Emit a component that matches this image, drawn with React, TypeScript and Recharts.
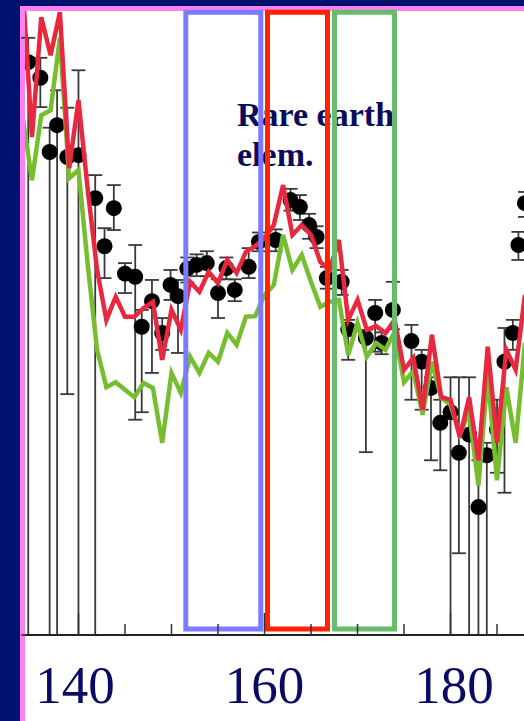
import React from 'react';
import { ComposedChart, Line, Scatter, XAxis, YAxis, ErrorBar, ReferenceArea } from 'recharts';

// Mass number grid for the model curves
const lineA = [134,135,136,137,138,139,140,141,142,143,144,145,146,147,148,149,150,151,152,153,154,155,156,157,158,159,160,161,162,163,164,165,166,167,168,169,170,171,172,173,174,175,176,177,178,179,180,181,182,183,184,185,186,187,188];
const redV = [104,79.8,99.0,92.9,99.8,74.8,85.7,71.3,58.5,50.5,54.2,51.0,51.0,52.4,53.4,44.1,52.1,48.9,56.6,55.0,58.2,56.4,60.1,58.0,61.4,62.3,63.6,65.7,72.1,64.1,65.7,64.1,59.8,58.5,63.3,50.5,53.7,48.9,49.5,48.4,50.5,42.5,44.4,36.1,48.1,38.1,37.7,31.7,38.1,28.0,46.2,30.8,45.7,42.5,54.5];
const greenV = [82.9,72.9,83.3,84.1,95.7,73.2,74.5,59.3,45.7,39.7,40.5,39.3,38.1,40.4,39.6,30.8,42.0,38.8,44.6,42.0,45.2,43.8,48.4,46.5,51.0,51.1,54.5,56.1,64.1,58.5,60.9,56.6,52.6,53.4,53.7,44.9,50.0,44.6,46.8,45.7,48.6,40.5,42.3,35.3,43.8,38.0,36.9,32.1,35.7,24.0,41.7,24.8,39.7,30.8,46.8];

// Observed abundances (dots) with upper / lower error ends (0 = reaches the axis)
const dotA = [134.6,135.9,136.9,137.7,138.8,140.0,141.8,142.8,143.8,145.0,146.1,146.8,147.9,149.0,149.9,150.7,151.7,152.7,153.8,155.0,155.9,156.8,158.3,159.4,161.2,162.8,163.8,164.8,165.6,166.7,168.3,169.0,170.9,171.9,172.6,173.8,175.8,176.9,177.9,178.9,180.0,180.9,182.0,183.0,183.9,185.0,185.8,186.7,187.3,188.0];
const dotV = [91.8,89.3,77.4,81.7,76.6,76.9,70.0,62.3,68.4,57.9,57.4,49.4,53.5,48.4,56.1,54.3,58.7,59.3,59.6,54.8,58.8,55.3,59.0,63.0,63.3,69.7,68.6,65.7,63.8,57.2,56.6,49.0,47.6,51.6,46.8,52.1,47.1,43.8,39.6,34.0,35.7,29.2,32.1,20.5,28.8,32.9,43.8,48.4,62.5,69.2];
const dotHi = [95.7,92.5,81.3,87.3,84.5,90.5,73.7,65.2,72.1,59.6,62.5,52.1,56.9,50.8,58.5,56.9,60.5,61.0,61.5,57.0,60.5,57.0,62.0,64.5,65.0,71.5,70.5,67.5,65.5,59.0,58.5,50.5,48.9,53.7,48.5,56.6,49.7,45.7,41.3,37.7,41.3,41.3,41.3,28.0,30.8,37.7,49.2,50.5,64.6,71.0];
const dotLo = [0,84.6,0,0,38.6,0,0,57.2,64.9,54.8,34.5,35.7,42.0,45.7,53.7,45.2,56.5,57.5,57.5,50.8,57.0,53.5,57.2,61.5,61.5,68.0,66.5,63.5,62.0,55.5,54.5,44.1,29.3,45.4,45.0,49.0,37.7,36.1,28.0,26.4,0,13.1,0,0,0,26.0,22.8,45.7,60.1,67.0];

// Axis ticks
const xTicks = [140,145,150,155,160,165,170,175,180,185];
const xLabels = [140,160,180];

// Highlight windows (mass number ranges)
const boxes = [
  { x1: 151.54, x2: 159.6, color: '#7b7bff' },
  { x1: 160.32, x2: 166.77, color: '#ff2200' },
  { x1: 167.53, x2: 173.98, color: '#68bb6a' },
];

const redRows = lineA.map((A, i) => ({ A, v: redV[i] }));
const greenRows = lineA.map((A, i) => ({ A, v: greenV[i] }));
const dotRows = dotA.map((A, i) => ({ A, v: dotV[i], err: [dotV[i] - dotLo[i], dotHi[i] - dotV[i]] }));

const AxisTick = (props: any) => {
  const { x, y, payload } = props;
  const val = payload.value;
  const major = xLabels.includes(val);
  return (
    <g>
      <line x1={x} x2={x} y1={y} y2={y - (major ? 22 : 11)} stroke="#333" strokeWidth={1.5} />
      {major && (
        <text
          x={x + ((val - 160) / 20) * 3.5}
          y={y + 68}
          textAnchor="middle"
          fontFamily="'Liberation Serif', 'Times New Roman', serif"
          fontSize={53}
          fill="#0a0a64"
        >
          {val}
        </text>
      )}
    </g>
  );
};

const Dot = (props: any) => {
  const { cx, cy } = props;
  return <circle cx={cx} cy={cy} r={8} fill="#000" />;
};

export default function App() {
  return (
    <div style={{ position: 'fixed', left: 0, top: 0, width: 524, height: 721, background: '#00106e', overflow: 'hidden' }}>
      <div
        style={{
          position: 'absolute', left: 20, top: 6, right: 0, bottom: 0, background: '#ffffff',
          borderLeft: '5px solid #fa80f4', borderTop: '5px solid #fa80f4', boxSizing: 'border-box',
        }}
      />
      <div
        style={{
          position: 'absolute', left: 237, top: 95, fontFamily: "'Liberation Serif', 'Times New Roman', serif",
          fontWeight: 'bold', fontSize: 34, lineHeight: '40px', color: '#0b0b5e', whiteSpace: 'nowrap',
        }}
      >
        Rare earth<br />elem.
      </div>
      <div style={{ position: 'absolute', left: 0, top: 0 }}>
        <ComposedChart width={524} height={721} margin={{ top: 11, right: 0, bottom: 0, left: 25 }}>
          <XAxis
            type="number"
            dataKey="A"
            domain={[134.25, 187.9]}
            allowDataOverflow
            ticks={xTicks}
            interval={0}
            tickSize={0}
            tickMargin={0}
            tickLine={false}
            tick={<AxisTick />}
            axisLine={{ stroke: '#222', strokeWidth: 2 }}
            height={86}
          />
          <YAxis type="number" dataKey="v" domain={[0, 100]} allowDataOverflow hide />
          <Scatter data={dotRows} dataKey="v" shape={<Dot />} isAnimationActive={false} zIndex={300}>
            <ErrorBar dataKey="err" direction="y" width={7} stroke="#3a3a3a" strokeWidth={1.8} isAnimationActive={false} zIndex={290} />
          </Scatter>
          <Line data={greenRows} dataKey="v" type="linear" stroke="#76be30" strokeWidth={4.5} dot={false} isAnimationActive={false} zIndex={400} />
          <Line data={redRows} dataKey="v" type="linear" stroke="#e8283f" strokeWidth={4.5} dot={false} isAnimationActive={false} zIndex={410} />
          {boxes.map((b, i) => (
            <ReferenceArea key={i} x1={b.x1} x2={b.x2} y1={0.96} y2={99.8} fill="none" fillOpacity={0} stroke={b.color} strokeWidth={5} ifOverflow="visible" zIndex={700} />
          ))}
        </ComposedChart>
      </div>
    </div>
  );
}
